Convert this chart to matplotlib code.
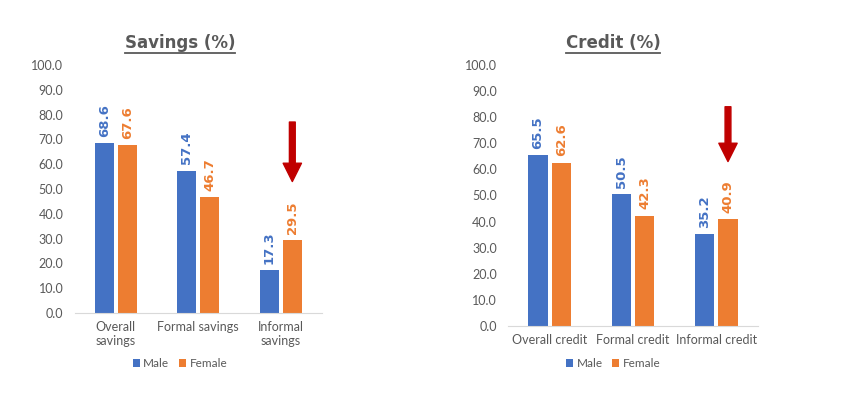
import matplotlib.pyplot as plt
import numpy as np

plt.rcParams['font.family'] = ['Lato', 'DejaVu Sans']

BLUE = '#4472C4'
ORANGE = '#ED7D31'
GREY = '#595959'
RED = '#C00000'

savings_cats = ['Overall\nsavings', 'Formal savings', 'Informal\nsavings']
savings_male = [68.6, 57.4, 17.3]
savings_female = [67.6, 46.7, 29.5]

credit_cats = ['Overall credit', 'Formal credit', 'Informal credit']
credit_male = [65.5, 50.5, 35.2]
credit_female = [62.6, 42.3, 40.9]


def draw_panel(ax, title, cats, male, female, arrow_top, arrow_bottom, title_xy, legend_xy):
    x = np.arange(len(cats))
    w = 0.23
    off = 0.14
    ax.bar(x - off, male, w, color=BLUE, label='Male')
    ax.bar(x + off, female, w, color=ORANGE, label='Female')
    for xi, m, f in zip(x, male, female):
        ax.text(xi - off, m + 2.5, f'{m:.1f}', rotation=90, ha='center', va='bottom',
                color=BLUE, fontsize=9.5, fontweight='bold', family='DejaVu Sans')
        ax.text(xi + off, f + 2.5, f'{f:.1f}', rotation=90, ha='center', va='bottom',
                color=ORANGE, fontsize=9.5, fontweight='bold', family='DejaVu Sans')
    ax.set_xlim(-0.5, len(cats) - 0.5)
    ax.set_ylim(0, 100)
    ax.set_yticks(np.arange(0, 101, 10))
    ax.set_yticklabels([f'{v:.1f}' for v in np.arange(0, 101, 10)])
    ax.set_xticks(x)
    ax.set_xticklabels(cats)
    ax.tick_params(axis='both', length=0, colors=GREY, labelsize=9)
    ax.tick_params(axis='y', pad=8)
    ax.tick_params(axis='x', pad=6)
    for s in ['top', 'right', 'left']:
        ax.spines[s].set_visible(False)
    ax.spines['bottom'].set_color('#D9D9D9')
    t = fig.text(title_xy[0], title_xy[1], title, color=GREY, fontsize=12,
                 fontweight='bold', family='DejaVu Sans', ha='center', va='center')
    fig.canvas.draw()
    bb = t.get_window_extent().transformed(fig.transFigure.inverted())
    fig.add_artist(plt.Line2D([bb.x0, bb.x1], [bb.y0 - 0.004, bb.y0 - 0.004],
                              color=GREY, lw=1.3, transform=fig.transFigure))
    ax.annotate('', xy=(2 + off, arrow_bottom), xytext=(2 + off, arrow_top),
                arrowprops=dict(arrowstyle='simple,head_width=1.1,head_length=1.1,tail_width=0.35',
                                color=RED, mutation_scale=12, shrinkA=0, shrinkB=0),
                annotation_clip=False)
    h, l = ax.get_legend_handles_labels()
    fig.legend(h, l, loc='center', bbox_to_anchor=legend_xy, ncol=2, frameon=False,
               fontsize=8.5, handlelength=0.6, handleheight=0.6, handletextpad=0.3,
               columnspacing=0.8, labelcolor=GREY)


fig = plt.figure(figsize=(8.41, 3.98), dpi=100)
ax1 = fig.add_axes([0.0886, 0.2136, 0.2943, 0.6231])
ax2 = fig.add_axes([0.604, 0.1809, 0.2973, 0.6558])

draw_panel(ax1, 'Savings (%)', savings_cats, savings_male, savings_female, 77, 53,
           (0.214, 0.893), (0.214, 0.086))
draw_panel(ax2, 'Credit (%)', credit_cats, credit_male, credit_female, 84, 63,
           (0.729, 0.893), (0.729, 0.086))

fig.savefig('out.png', dpi=100)
